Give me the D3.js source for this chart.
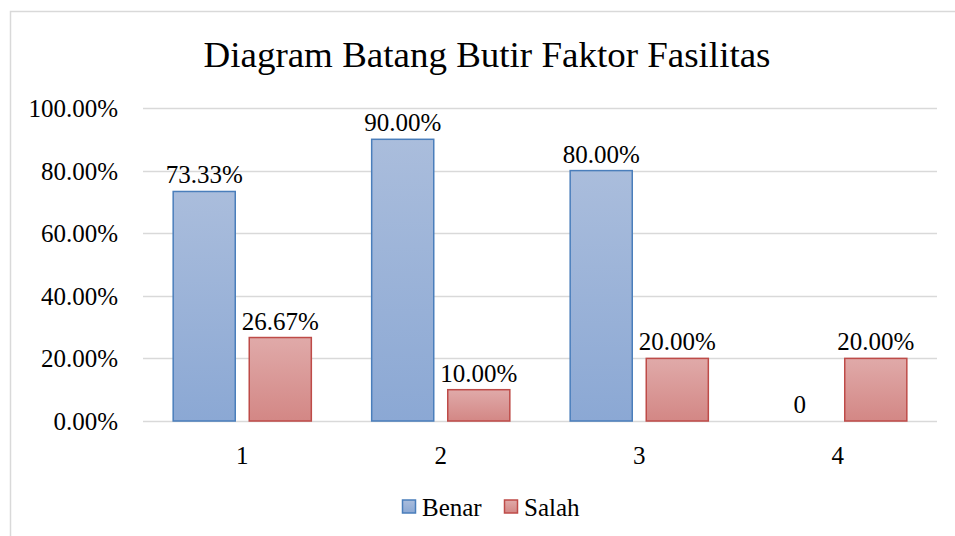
<!DOCTYPE html>
<html>
<head>
<meta charset="utf-8">
<script src="https://cdn.jsdelivr.net/npm/d3@7"></script>
<style>
  body { margin: 0; background: #fff; }
</style>
</head>
<body>
<div id="chart"></div>
<script>
const categories = ["1", "2", "3", "4"]
const seriesNames = ["Benar", "Salah"]
const benar = [73.33, 90.00, 80.00, 0]
const salah = [26.67, 10.00, 20.00, 20.00]
const yTicks = [0, 20, 40, 60, 80, 100]
const title = "Diagram Batang Butir Faktor Fasilitas"

const W = 955, H = 536
const margin = { top: 108, right: 18, bottom: 115, left: 143 }
const width = W - margin.left - margin.right
const height = H - margin.top - margin.bottom
const FONT = "Liberation Serif"

const colors = {
  Benar: { top: "#aabddc", bottom: "#8ba8d4", stroke: "#4a7ebb" },
  Salah: { top: "#e0aaa9", bottom: "#d38785", stroke: "#be4b48" }
}

const svg = d3.select("#chart").append("svg")
  .attr("width", W)
  .attr("height", H)

// gradients
const defs = svg.append("defs")
seriesNames.forEach(s => {
  const g = defs.append("linearGradient")
    .attr("id", "grad-" + s)
    .attr("x1", 0).attr("y1", 0).attr("x2", 0).attr("y2", 1)
  g.append("stop").attr("offset", "0%").attr("stop-color", colors[s].top)
  g.append("stop").attr("offset", "100%").attr("stop-color", colors[s].bottom)
})

// chart frame
svg.append("rect")
  .attr("x", 10.5).attr("y", 11.5)
  .attr("width", W + 20).attr("height", H + 20)
  .attr("fill", "none")
  .attr("stroke", "#d9d9d9")
  .attr("stroke-width", 1.5)

svg.append("text")
  .attr("x", 487)
  .attr("y", 67)
  .attr("text-anchor", "middle")
  .attr("font-family", FONT)
  .attr("font-size", 36)
  .attr("textLength", 567)
  .attr("lengthAdjust", "spacingAndGlyphs")
  .text(title)

const g = svg.append("g")
  .attr("transform", "translate(" + margin.left + "," + margin.top + ")")

const x = d3.scaleBand()
  .domain(categories)
  .range([0, width])
  .paddingInner(0.304)
  .paddingOuter(0.152)

const x1 = d3.scaleBand()
  .domain(seriesNames)
  .range([0, x.bandwidth()])
  .paddingInner(0.184)

const y = d3.scaleLinear()
  .domain([0, 100])
  .range([height, 0])

// gridlines
g.append("g")
  .selectAll("line")
  .data(yTicks)
  .enter().append("line")
  .attr("x1", 0)
  .attr("x2", width)
  .attr("y1", d => Math.round(y(d)) + 0.5)
  .attr("y2", d => Math.round(y(d)) + 0.5)
  .attr("stroke", "#d9d9d9")
  .attr("stroke-width", 1.5)

// y axis labels
const yAxis = d3.axisLeft(y)
  .tickValues(yTicks)
  .tickSize(0)
  .tickPadding(25)
  .tickFormat(d => d.toFixed(2) + "%")

g.append("g")
  .call(yAxis)
  .call(a => a.select(".domain").remove())
  .attr("font-family", FONT)
  .attr("font-size", 25)
  .selectAll("text")
  .attr("fill", "#000")
  .attr("dy", "0.34em")

// x axis labels
const xAxis = d3.axisBottom(x)
  .tickSize(0)
  .tickPadding(25)

g.append("g")
  .attr("transform", "translate(0," + height + ")")
  .call(xAxis)
  .call(a => a.select(".domain").remove())
  .attr("font-family", FONT)
  .attr("font-size", 25)
  .selectAll("text")
  .attr("fill", "#000")

const rows = categories.map((c, i) => ({
  cat: c,
  values: [
    { key: "Benar", value: benar[i] },
    { key: "Salah", value: salah[i] }
  ]
}))

const groups = g.selectAll(".cat")
  .data(rows)
  .enter().append("g")
  .attr("class", "cat")
  .attr("transform", d => "translate(" + x(d.cat) + ",0)")

groups.selectAll("rect")
  .data(d => d.values.filter(v => v.value > 0))
  .enter().append("rect")
  .attr("x", d => x1(d.key))
  .attr("y", d => y(d.value))
  .attr("width", x1.bandwidth())
  .attr("height", d => height - y(d.value))
  .attr("fill", d => "url(#grad-" + d.key + ")")
  .attr("stroke", d => colors[d.key].stroke)
  .attr("stroke-width", 1.5)

groups.selectAll(".lbl")
  .data(d => d.values)
  .enter().append("text")
  .attr("class", "lbl")
  .attr("x", d => x1(d.key) + x1.bandwidth() / 2)
  .attr("y", d => y(d.value) - 8)
  .attr("text-anchor", "middle")
  .attr("font-family", FONT)
  .attr("font-size", 25)
  .text(d => d.value === 0 ? "0" : d.value.toFixed(2) + "%")

// legend
const legend = svg.append("g")
  .attr("transform", "translate(402,507)")

const legendX = [0, 102]
seriesNames.forEach((s, i) => {
  const lg = legend.append("g").attr("transform", "translate(" + legendX[i] + ",0)")
  lg.append("rect")
    .attr("x", 0.5).attr("y", -7)
    .attr("width", 13).attr("height", 13)
    .attr("fill", "url(#grad-" + s + ")")
    .attr("stroke", colors[s].stroke)
    .attr("stroke-width", 1.5)
  lg.append("text")
    .attr("x", 20)
    .attr("y", 0)
    .attr("dy", "0.34em")
    .attr("font-family", FONT)
    .attr("font-size", 25)
    .text(s)
})
</script>
</body>
</html>
